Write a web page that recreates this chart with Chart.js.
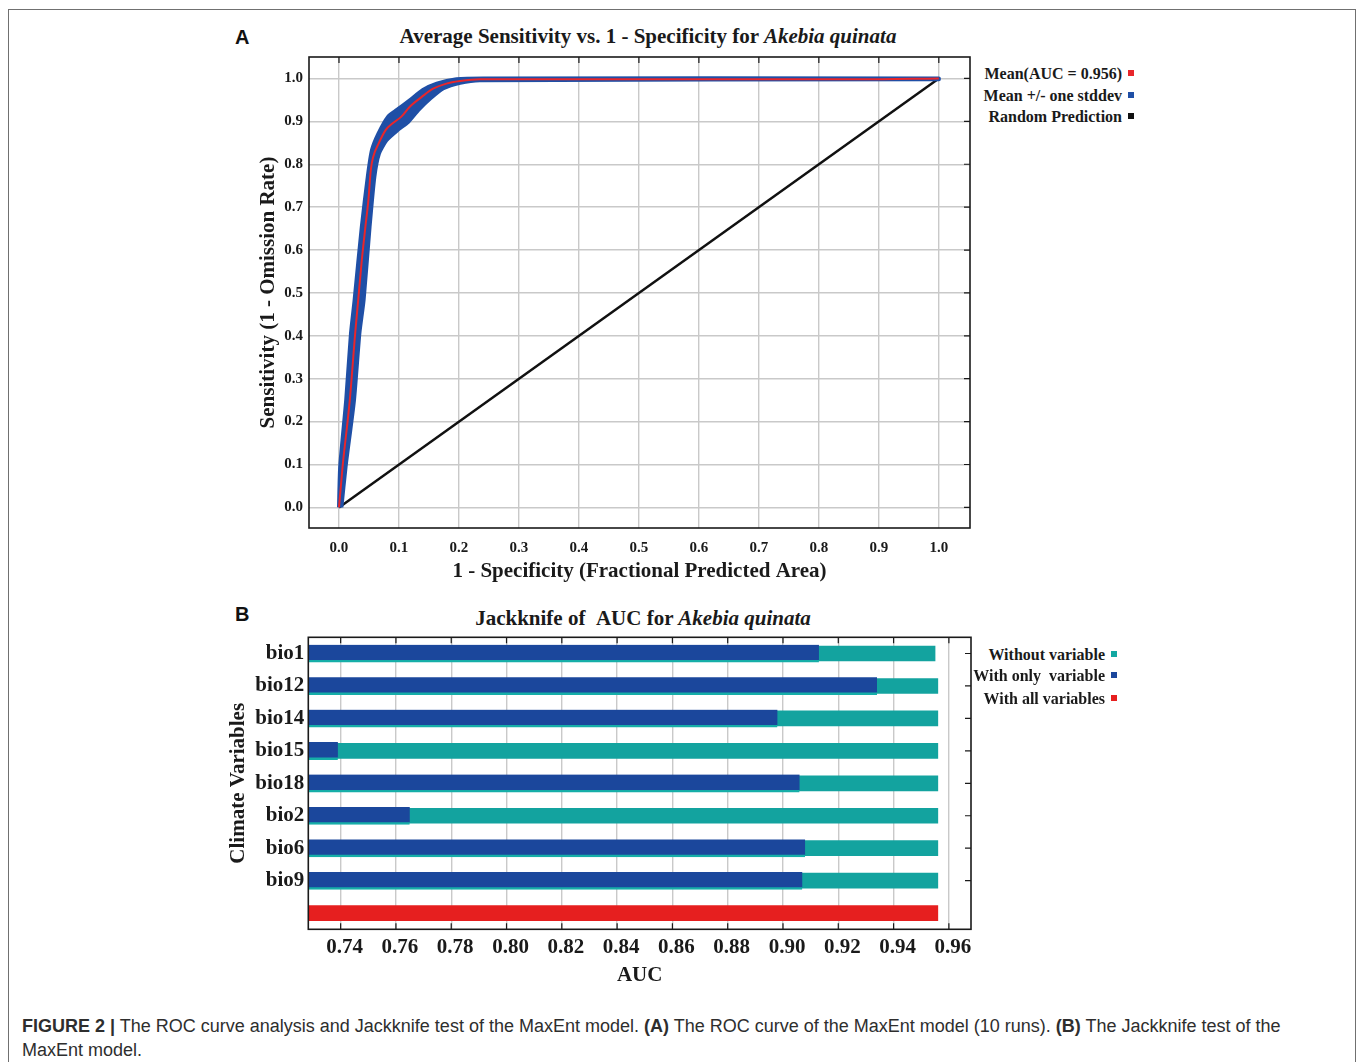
<!DOCTYPE html>
<html><head><meta charset="utf-8">
<script src="https://cdn.jsdelivr.net/npm/chart.js@4.4.1/dist/chart.umd.min.js"></script>
<style>
html,body{margin:0;padding:0;background:#fff;}
body{width:1358px;height:1062px;position:relative;overflow:hidden;font-family:"Liberation Serif","Times New Roman",serif;}
.abs{position:absolute;}
#frame{left:8px;top:9px;width:1348px;height:1100px;border:1.5px solid #707070;box-sizing:border-box;}
.ttl{font-weight:bold;color:#1a1a1a;text-align:center;white-space:nowrap;width:800px;}
.panel{font-family:"Liberation Sans",Arial,sans-serif;font-weight:bold;font-size:20px;color:#111;}
.leg{display:flex;align-items:center;gap:6px;font-weight:bold;white-space:nowrap;color:#1a1a1a;font-size:16px;line-height:18px;}
.sq{width:6px;height:6px;display:inline-block;margin-top:-3px;}
#caption{left:22px;top:1014px;font-family:"Liberation Sans",Arial,sans-serif;font-size:18px;line-height:24px;color:#2e2e2e;white-space:nowrap;}
canvas{position:absolute;}
</style></head><body>
<div id="frame" class="abs"></div>

<div class="abs panel" style="left:235px;top:26px;">A</div>
<div class="abs ttl" style="left:248px;top:24px;font-size:21px;">Average Sensitivity vs. 1 - Specificity for <i>Akebia quinata</i></div>
<canvas id="roc" width="750" height="545" style="left:230px;top:47px;"></canvas>
<div class="abs leg" style="right:224px;top:65px;"><span>Mean(AUC = 0.956)</span><span class="sq" style="background:#e8262b"></span></div>
<div class="abs leg" style="right:224px;top:87px;"><span>Mean +/- one stddev</span><span class="sq" style="background:#1f4fa6"></span></div>
<div class="abs leg" style="right:224px;top:108px;"><span>Random Prediction</span><span class="sq" style="background:#111"></span></div>

<div class="abs panel" style="left:235px;top:603px;">B</div>
<div class="abs ttl" style="left:243px;top:606px;font-size:21px;">Jackknife of &nbsp;AUC for <i>Akebia quinata</i></div>
<canvas id="jack" width="765" height="370" style="left:215px;top:630px;"></canvas>
<div class="abs leg" style="right:241px;top:646px;"><span>Without variable</span><span class="sq" style="background:#13a8a2"></span></div>
<div class="abs leg" style="right:241px;top:667px;"><span>With only &nbsp;variable</span><span class="sq" style="background:#1b479c"></span></div>
<div class="abs leg" style="right:241px;top:690px;"><span>With all variables</span><span class="sq" style="background:#e61f1f"></span></div>

<div id="caption" class="abs"><b>FIGURE 2 |</b> The ROC curve analysis and Jackknife test of the MaxEnt model. <b>(A)</b> The ROC curve of the MaxEnt model (10 runs). <b>(B)</b> The Jackknife test of the<br>MaxEnt model.</div>

<script>
// ---------- Panel A data (ROC) ----------
const meanCurve = [
  {x:0,y:0},{x:0.006,y:0.095},{x:0.018,y:0.25},{x:0.027,y:0.406},{x:0.032,y:0.483},
  {x:0.038,y:0.576},{x:0.044,y:0.654},{x:0.049,y:0.716},{x:0.053,y:0.786},{x:0.057,y:0.817},
  {x:0.066,y:0.848},{x:0.078,y:0.880},{x:0.089,y:0.895},{x:0.104,y:0.911},{x:0.118,y:0.934},
  {x:0.138,y:0.957},{x:0.157,y:0.976},{x:0.179,y:0.988},{x:0.202,y:0.994},{x:0.235,y:0.998},
  {x:0.87,y:0.998},{x:1.0,y:1.0}
];
const bandUpper = [
  {x:0,y:0},{x:0.002,y:0.095},{x:0.012,y:0.25},{x:0.02,y:0.406},{x:0.026,y:0.483},
  {x:0.038,y:0.654},{x:0.048,y:0.771},{x:0.055,y:0.833},{x:0.066,y:0.872},{x:0.082,y:0.911},
  {x:0.096,y:0.926},{x:0.118,y:0.949},{x:0.14,y:0.973},{x:0.163,y:0.988},{x:0.196,y:0.998},
  {x:0.24,y:1.0},{x:1.0,y:1.0}
];
const bandLower = [
  {x:0.004,y:0},{x:0.011,y:0.095},{x:0.025,y:0.25},{x:0.034,y:0.406},{x:0.041,y:0.483},
  {x:0.051,y:0.654},{x:0.059,y:0.771},{x:0.0666,y:0.825},{x:0.079,y:0.856},{x:0.097,y:0.879},
  {x:0.1156,y:0.899},{x:0.132,y:0.926},{x:0.152,y:0.953},{x:0.174,y:0.977},{x:0.202,y:0.99},
  {x:0.235,y:0.996},{x:1.0,y:0.998}
];
const randomLine = [{x:0,y:0},{x:1,y:1}];
const rocTicks = [0,0.1,0.2,0.3,0.4,0.5,0.6,0.7,0.8,0.9,1.0];
const rocTickLabels = ['0.0','0.1','0.2','0.3','0.4','0.5','0.6','0.7','0.8','0.9','1.0'];

// ---------- Panel B data (Jackknife) ----------
const variables = ['bio1','bio12','bio14','bio15','bio18','bio2','bio6','bio9'];
const withoutVariable = [0.955,0.956,0.956,0.956,0.956,0.956,0.956,0.956];
const withOnlyVariable = [0.913,0.934,0.898,0.739,0.906,0.765,0.908,0.907];
const withAllVariables = 0.956;
const aucTicks = [0.74,0.76,0.78,0.80,0.82,0.84,0.86,0.88,0.90,0.92,0.94,0.96];
const aucTickLabels = ['0.74','0.76','0.78','0.80','0.82','0.84','0.86','0.88','0.90','0.92','0.94','0.96'];
const aucMin = 0.7283, aucMax = 0.968;

const SERIF = '"Liberation Serif","Times New Roman",serif';
const INK = '#1a1a1a';
const GRID = '#c9c9c9';

const frameTicks = {
  id: 'frameTicks',
  afterDraw(chart, args, opts) {
    const {ctx, chartArea: a, scales} = chart;
    const len = opts.len || 6;
    ctx.save();
    ctx.strokeStyle = INK; ctx.lineWidth = 1.2;
    ctx.beginPath();
    const xs = scales.x;
    xs.ticks.forEach((t, i) => {
      const px = xs.getPixelForTick(i);
      if (opts.top) { ctx.moveTo(px, a.top); ctx.lineTo(px, a.top + len); }
      if (opts.bottom) { ctx.moveTo(px, a.bottom); ctx.lineTo(px, a.bottom - len); }
    });
    const ys = scales.y;
    ys.ticks.forEach((t, i) => {
      const lbl = ys.getLabelForValue ? ys.getLabelForValue(t.value) : '';
      if (opts.skipEmpty && (lbl === '' || lbl == null)) return;
      const py = ys.getPixelForTick(i);
      if (opts.right) { ctx.moveTo(a.right, py); ctx.lineTo(a.right - len, py); }
    });
    ctx.stroke();
    ctx.lineWidth = 1.6;
    ctx.strokeRect(a.left, a.top, a.right - a.left, a.bottom - a.top);
    ctx.restore();
  }
};

// ---------- Chart A ----------
const bandPolygon = bandUpper.concat(bandLower.slice().reverse());
new Chart(document.getElementById('roc'), {
  type: 'scatter',
  data: {
    datasets: [
      {label:'Random Prediction', data: randomLine, showLine:true, borderColor:'#111', borderWidth:2.5, pointRadius:0, order:3},
      {label:'Mean +/- one stddev', data: bandPolygon, showLine:true, fill:'shape', backgroundColor:'#1f4fa6', borderColor:'#1f4fa6', borderWidth:4, borderJoinStyle:'round', pointRadius:0, order:2, tension:0.2},
      {label:'Mean(AUC = 0.956)', data: meanCurve, showLine:true, borderColor:'#e8262b', borderWidth:2, pointRadius:0, order:1, cubicInterpolationMode:'monotone'}
    ]
  },
  options: {
    responsive:false, animation:false, devicePixelRatio:1, events:[],
    layout:{padding:{top:10,right:10,left:0,bottom:0}},
    plugins:{legend:{display:false}, tooltip:{enabled:false}, frameTicks:{top:true,right:true,len:6}},
    scales:{
      x:{type:'linear', min:-0.05, max:1.052,
         afterBuildTicks: s => { s.ticks = rocTicks.map(v => ({value:v})); },
         afterFit: s => { s.height = 64; s.paddingLeft = 0; s.paddingRight = 0; },
         grid:{color:GRID, lineWidth:1.4, drawTicks:false}, border:{display:false},
         ticks:{autoSkip:false, maxRotation:0, padding:11, color:INK, font:{family:SERIF, size:15, weight:'bold'},
                callback:(v,i) => rocTickLabels[i]},
         title:{display:true, text:'1 - Specificity (Fractional Predicted Area)', color:INK, padding:{top:0,bottom:8},
                font:{family:SERIF, size:21, weight:'bold'}}},
      y:{type:'linear', min:-0.048, max:1.05,
         afterBuildTicks: s => { s.ticks = rocTicks.map(v => ({value:v})); },
         afterFit: s => { s.width = 79; s.paddingTop = 0; s.paddingBottom = 0; },
         grid:{color:GRID, lineWidth:1.4, drawTicks:false}, border:{display:false},
         ticks:{autoSkip:false, padding:6, color:INK, font:{family:SERIF, size:15, weight:'bold'},
                callback:(v,i) => rocTickLabels[i]},
         title:{display:true, text:'Sensitivity (1 - Omission Rate)', color:INK, padding:{top:26,bottom:0},
                font:{family:SERIF, size:21, weight:'bold'}}}
    }
  },
  plugins:[frameTicks]
});

// ---------- Chart B ----------
const catLabels = variables.concat(['']);
new Chart(document.getElementById('jack'), {
  type: 'bar',
  data: {
    labels: catLabels,
    datasets: [
      {label:'With only  variable', data: withOnlyVariable.concat([null]), backgroundColor:'#1b479c',
       borderColor:'#16aea8', borderWidth:{top:0,left:0,right:0,bottom:2.5}, borderSkipped:false,
       barThickness:17.5, grouped:false, base:aucMin, order:0},
      {label:'Without variable', data: withoutVariable.concat([null]), backgroundColor:'#13a39f',
       barThickness:15, grouped:false, base:aucMin, order:1},
      {label:'With all variables', data: variables.map(() => null).concat([withAllVariables]), backgroundColor:'#e61f1f',
       barThickness:15, grouped:false, base:aucMin, order:2}
    ]
  },
  options: {
    indexAxis:'y',
    responsive:false, animation:false, devicePixelRatio:1, events:[],
    layout:{padding:{top:7.3,right:9,left:0,bottom:0}},
    plugins:{legend:{display:false}, tooltip:{enabled:false}, frameTicks:{top:true,bottom:true,right:true,skipEmpty:true,len:6}},
    scales:{
      x:{type:'linear', min:aucMin, max:aucMax,
         afterBuildTicks: s => { s.ticks = aucTicks.map(v => ({value:v})); },
         afterFit: s => { s.height = 70.7; s.paddingLeft = 0; s.paddingRight = 0; },
         grid:{color:GRID, lineWidth:1.4, drawTicks:false}, border:{display:false},
         ticks:{autoSkip:false, maxRotation:0, padding:6, labelOffset:4, color:INK, font:{family:SERIF, size:21, weight:'bold'},
                callback:(v,i) => aucTickLabels[i]},
         title:{display:true, text:'AUC', color:INK, padding:{top:0,bottom:11.4},
                font:{family:SERIF, size:21, weight:'bold'}}},
      y:{type:'category',
         afterFit: s => { s.width = 93.3; s.paddingTop = 0; s.paddingBottom = 0; },
         grid:{display:false, drawTicks:false}, border:{display:false},
         ticks:{autoSkip:false, padding:4, color:INK, font:{family:SERIF, size:21, weight:'bold'}},
         title:{display:true, text:'Climate Variables', color:INK, padding:{top:10.6,bottom:0},
                font:{family:SERIF, size:21, weight:'bold'}}}
    }
  },
  plugins:[frameTicks]
});
</script>
</body></html>
